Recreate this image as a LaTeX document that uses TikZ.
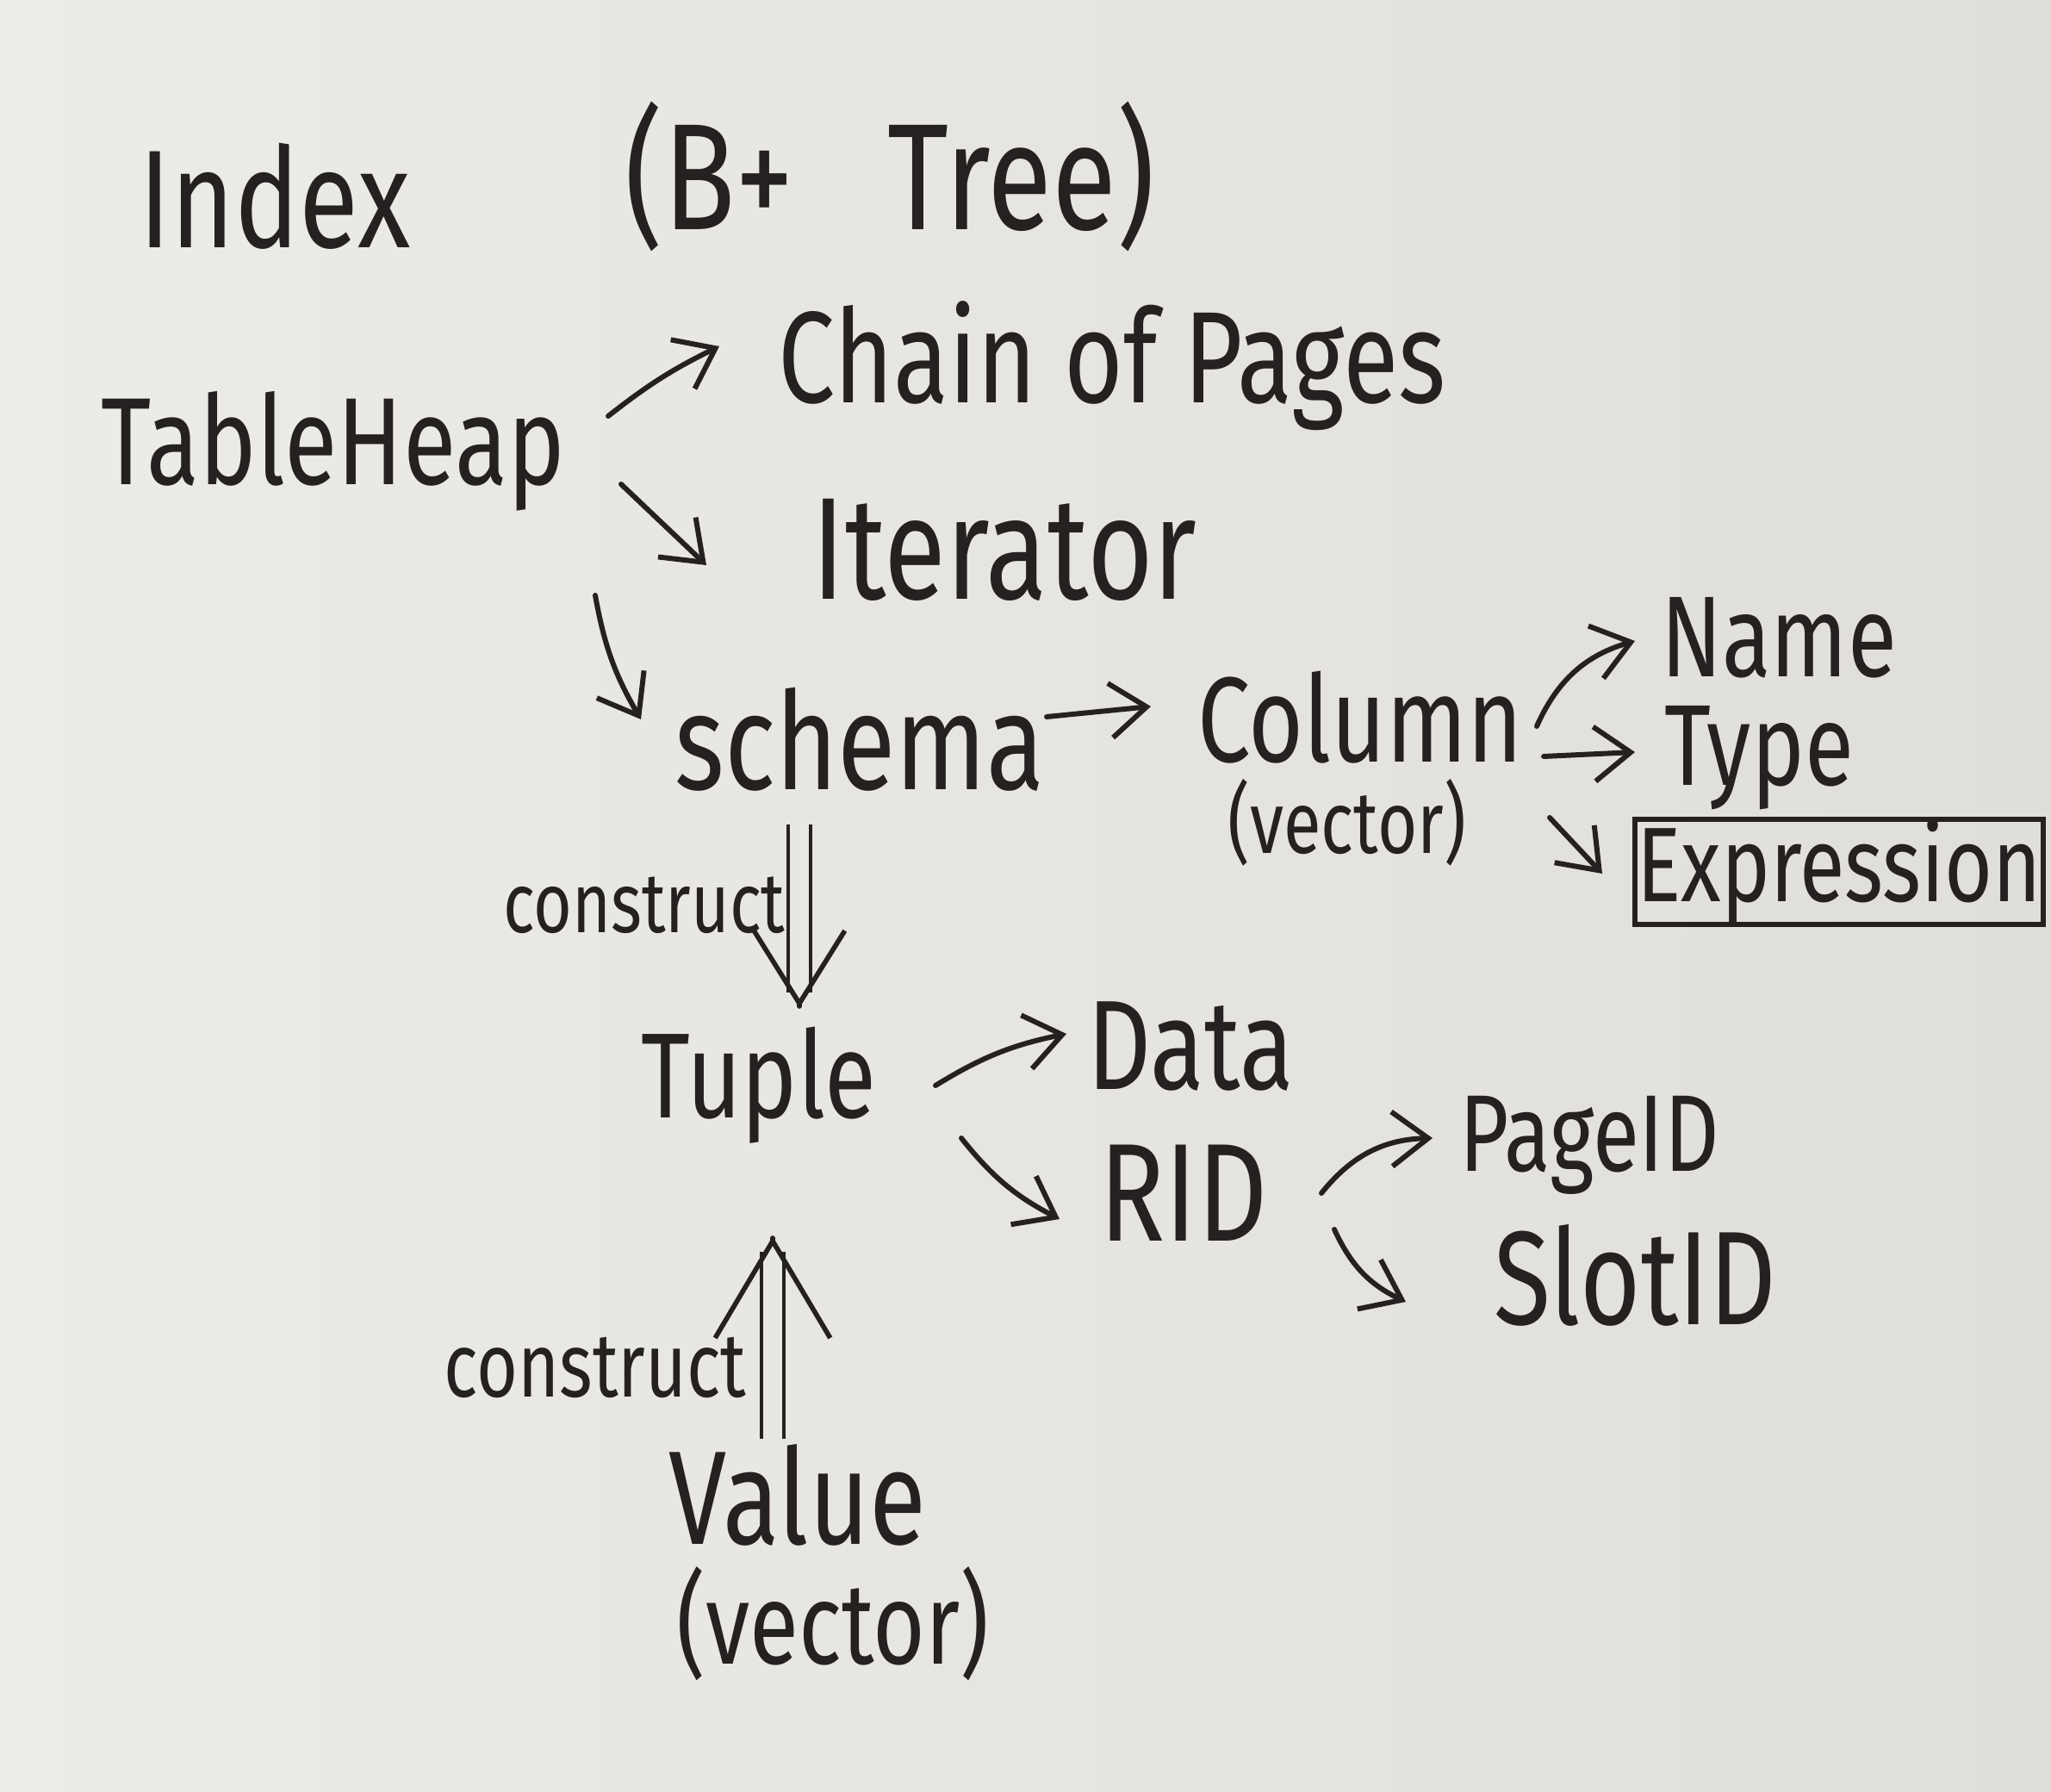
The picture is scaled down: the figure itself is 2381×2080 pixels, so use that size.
\documentclass[tikz,border=0pt]{standalone}
\usepackage{fontspec}
\setmainfont{Fira Sans}
\newfontfamily\hand[FakeStretch=0.78]{Fira Sans}
\usetikzlibrary{arrows.meta,calc}
\definecolor{paperl}{RGB}{236,236,232}
\definecolor{paperr}{RGB}{224,222,216}
\definecolor{paper}{RGB}{231,231,227}
\definecolor{ink}{RGB}{38,33,33}
\newcommand{\fs}[1]{\fontsize{#1}{#1}\selectfont}
\begin{document}
\begin{tikzpicture}[x=0.01cm,y=-0.01cm,
  lbl/.style={text=ink, inner sep=0pt},
  arr/.style={draw=ink, line width=1.7pt, line cap=round, line join=round,
    -{Straight Barb[length=12pt,width=18pt]}},
  dbl/.style={draw=ink, line width=1.4pt, double=paper, double distance=6pt, shorten >=5pt},
  bighead/.style={draw=ink, line width=1.6pt, line cap=round, line join=round},
  boxed/.style={lbl, draw=ink, line width=1.8pt, minimum width=4.74cm, minimum height=1.16cm}
]
\useasboundingbox (0,0) rectangle (2381,2080);
\shade[left color=paperl, right color=paperr] (0,0) rectangle (2381,2080);

% nodes
\node[lbl, font={\hand\fs{46}}] (index) at (319,228) {Index};
\node[lbl, font={\hand\fs{50}}] (bplus) at (1033,205) {(B+~~~Tree)};
\node[lbl, font={\hand\fs{41}}] (tableheap) at (387,524) {TableHeap};
\node[lbl, font={\hand\fs{43}}] (chain) at (1291,425) {Chain of Pages};
\node[lbl, font={\hand\fs{48}}] (iterator) at (1166,638) {Iterator};
\node[lbl, font={\hand\fs{45}}] (schema) at (998,858) {schema};
\node[lbl, font={\hand\fs{40}}] (column) at (1579,833) {Column};
\node[lbl, font={\hand\fs{29}}] (colvec) at (1564,955) {(vector)};
\node[lbl, font={\hand\fs{38}}] (name) at (2065,740) {Name};
\node[lbl, font={\hand\fs{38}}] (type) at (2042,880) {Type};
\node[boxed, font={\hand\fs{35}}] (expression) at (2135,1012) {Expression};
\node[lbl, font={\hand\fs{40}}] (tuple) at (881,1260) {Tuple};
\node[lbl, font={\hand\fs{42}}] (data) at (1382,1215) {Data};
\node[lbl, font={\hand\fs{46}}] (rid) at (1374,1385) {RID};
\node[lbl, font={\hand\fs{36}}] (pageid) at (1845,1329) {PageID};
\node[lbl, font={\hand\fs{44}}] (slotid) at (1898,1480) {SlotID};
\node[lbl, font={\hand\fs{44}}] (value) at (926,1735) {Value};
\node[lbl, font={\hand\fs{38}}] (valvec) at (967,1885) {(vector)};

% connectors
\draw[arr] ($(tableheap)+(319,-41)$) to[bend left=6] ($(chain)+(-456,-23)$);
\draw[arr] ($(tableheap)+(334,38)$) -- ($(iterator)+(-346,18)$);
\draw[arr] ($(tableheap)+(304,167)$) to[bend right=10] ($(schema)+(-254,-23)$);
\draw[arr] ($(schema)+(217,-26)$) -- ($(column)+(-243,-13)$);
\draw[arr] ($(column)+(205,10)$) to[bend left=25] ($(name)+(-167,4)$);
\draw[arr] ($(column)+(213,45)$) -- ($(type)+(-144,-7)$);
\draw[arr] ($(column)+(220,116)$) -- ($(expression)+(-275,2)$);
\draw[arr] ($(tuple)+(205,0)$) to[bend left=10] ($(data)+(-144,-15)$);
\draw[arr] ($(tuple)+(235,61)$) to[bend right=12] ($(rid)+(-144,30)$);
\draw[arr] ($(rid)+(160,0)$) to[bend left=25] ($(pageid)+(-182,-8)$);
\draw[arr] ($(rid)+(175,42)$) to[bend right=20] ($(slotid)+(-266,31)$);

% double arrows (construct)
\draw[dbl] ($(schema)+(-70,99)$) -- node[lbl, pos=0.44, left=4pt, font={\hand\fs{28}}] (construct1) {construct} ($(tuple)+(47,-90)$);
\draw[bighead, -{Straight Barb[length=24pt,width=30pt]}] ($(tuple)+(47,-92)$) -- ($(tuple)+(47,-90)$);
\draw[dbl] ($(value)+(-29,-65)$) -- node[lbl, pos=0.35, left=8pt, font={\hand\fs{30}}] (construct2) {construct} ($(tuple)+(16,175)$);
\draw[bighead, -{Straight Barb[length=32pt,width=38pt]}] ($(tuple)+(16,177)$) -- ($(tuple)+(16,175)$);
\end{tikzpicture}
\end{document}
